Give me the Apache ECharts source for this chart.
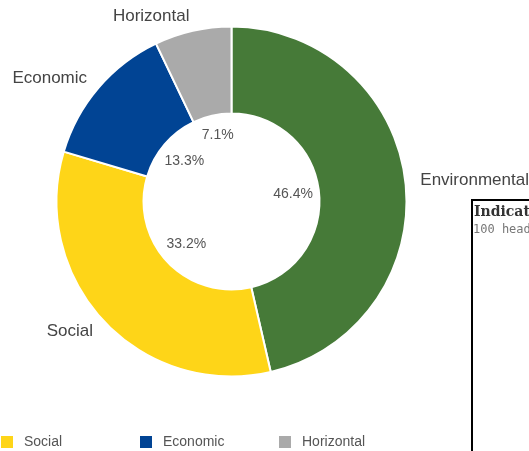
<!DOCTYPE html>
<html>
<head>
<meta charset="utf-8">
<script src="https://cdn.jsdelivr.net/npm/echarts@6/dist/echarts.min.js"></script>
<style>
html,body{margin:0;padding:0;background:#fff;}
#chart{width:529px;height:451px;}
</style>
</head>
<body>
<div id="chart"></div>
<script>
var categories = ['Environmental', 'Social', 'Economic', 'Horizontal'];
var values = [46.4, 33.2, 13.3, 7.1];
var colors = ['#467a38', '#fed518', '#014494', '#aaaaaa'];
var legendItems = ['Social', 'Economic', 'Horizontal'];
var boxTitle = 'Indicat';
var boxSubtitle = '100 head';

var chart = echarts.init(document.getElementById('chart'));
var mainData = categories.map(function (c, i) {
  return { name: c, value: values[i], itemStyle: { color: colors[i] } };
});
var innerData = categories.map(function (c, i) {
  var d = { name: c, value: values[i] };
  if (c === 'Horizontal') d.label = { offset: [0, -6] };
  return d;
});

var legends = legendItems.map(function (name, i) {
  return {
    data: [name],
    left: -6 + i * 139,
    top: 429,
    icon: 'rect',
    itemWidth: 14,
    itemHeight: 14,
    selectedMode: false,
    textStyle: {
      fontFamily: 'Liberation Sans, Arial, sans-serif',
      fontSize: 14,
      color: '#555',
      padding: [0, 0, 0, 5]
    }
  };
});

chart.setOption({
  animation: false,
  legend: legends,
  graphic: [
    {
      type: 'rect',
      shape: { x: 472, y: 200, width: 100, height: 300 },
      style: { fill: '#fff', stroke: '#000', lineWidth: 2 },
      z: 10
    },
    {
      type: 'text',
      x: 474, y: 205,
      style: { text: boxTitle, fill: '#333', font: 'bold 14px "DejaVu Serif", serif' },
      z: 11
    },
    {
      type: 'text',
      x: 473, y: 224,
      style: { text: boxSubtitle, fill: '#777', font: '12px "DejaVu Sans Mono", monospace' },
      z: 11
    }
  ],
  series: [
    {
      type: 'pie',
      center: [231.5, 201.5],
      radius: [88, 175],
      startAngle: 90,
      clockwise: true,
      avoidLabelOverlap: false,
      itemStyle: { borderColor: '#fff', borderWidth: 2 },
      label: {
        show: true,
        position: 'outside',
        formatter: '{b}',
        fontFamily: 'Liberation Sans, Arial, sans-serif',
        fontSize: 17,
        color: '#444',
        distanceToLabelLine: 0
      },
      labelLine: { show: false, length: 15, length2: 0 },
      emphasis: { disabled: true },
      data: mainData
    },
    {
      type: 'pie',
      center: [231.5, 201.5],
      radius: [0, 118],
      startAngle: 90,
      clockwise: true,
      silent: true,
      itemStyle: { color: 'rgba(0,0,0,0)' },
      label: {
        show: true,
        position: 'inside',
        formatter: function (p) { return p.value.toFixed(1) + '%'; },
        fontFamily: 'Liberation Sans, Arial, sans-serif',
        fontSize: 14,
        color: '#555'
      },
      labelLine: { show: false },
      emphasis: { disabled: true },
      data: innerData
    }
  ]
});
</script>
</body>
</html>
